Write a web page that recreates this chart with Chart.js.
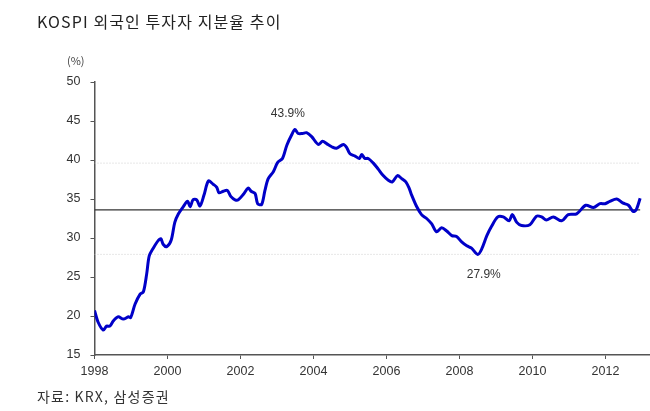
<!DOCTYPE html>
<html>
<head>
<meta charset="utf-8">
<script src="https://cdn.jsdelivr.net/npm/chart.js@4"></script>
<style>
  body { margin: 0; background: #fff; }
  #wrap { position: relative; width: 650px; height: 411px; }
  #chart { position: absolute; left: 0; top: 0; }
  .txt { position: absolute; font-family: 'Noto Sans CJK KR', 'Liberation Sans', sans-serif; color: #222; white-space: nowrap; }
  #title { left: 37px; top: 9px; font-size: 16px; letter-spacing: 1.1px; }
  #unit { left: 67px; top: 52px; font-size: 11px; color: #444; }
  #source { left: 37px; top: 386px; font-size: 14px; letter-spacing: 1.2px; color: #333; }
</style>
</head>
<body>
<div id="wrap">
  <canvas id="chart" width="650" height="411"></canvas>
  <div class="txt" id="title">KOSPI 외국인 투자자 지분율 추이</div>
  <div class="txt" id="unit">(%)</div>
  <div class="txt" id="source">자료: KRX, 삼성증권</div>
</div>
<script>
'use strict';

/* Data */
const years = [
  1998.0, 1998.1, 1998.24, 1998.33, 1998.42, 1998.52, 1998.65, 1998.79, 1998.93, 1998.99,
  1999.11, 1999.25, 1999.34, 1999.43, 1999.5, 1999.61, 1999.75, 1999.82, 1999.88, 1999.98,
  2000.1, 2000.2, 2000.3, 2000.43, 2000.55, 2000.62, 2000.7, 2000.8, 2000.89,
  2001.0, 2001.12, 2001.25, 2001.35, 2001.41, 2001.53, 2001.64, 2001.74, 2001.85, 2001.94,
  2002.08, 2002.21, 2002.29, 2002.4, 2002.47, 2002.58, 2002.67, 2002.76, 2002.9,
  2003.02, 2003.15, 2003.27, 2003.4, 2003.49, 2003.58, 2003.7, 2003.81, 2003.95,
  2004.13, 2004.25, 2004.36, 2004.5, 2004.63, 2004.82, 2004.91,
  2005.0, 2005.14, 2005.26, 2005.32, 2005.41, 2005.5, 2005.64, 2005.78, 2005.91,
  2006.05, 2006.16, 2006.3, 2006.42, 2006.53, 2006.62, 2006.69, 2006.83, 2006.96,
  2007.1, 2007.24, 2007.37, 2007.51, 2007.65, 2007.79, 2007.92,
  2008.06, 2008.2, 2008.33, 2008.5, 2008.61, 2008.75, 2008.88,
  2009.05, 2009.2, 2009.36, 2009.45, 2009.57, 2009.7, 2009.93,
  2010.11, 2010.25, 2010.38, 2010.57, 2010.8, 2010.98,
  2011.21, 2011.46, 2011.67, 2011.85, 2011.99,
  2012.12, 2012.31, 2012.47, 2012.63, 2012.76, 2012.84, 2012.95
];
const foreignShare = [
  20.7, 19.2, 18.2, 18.7, 18.7, 19.4, 19.9, 19.6, 19.9, 19.8,
  21.5, 22.8, 23.1, 25.4, 27.7, 28.7, 29.7, 29.9, 29.2, 28.9,
  29.7, 32.0, 33.1, 34.0, 34.7, 34.0, 34.9, 34.9, 34.1,
  35.5, 37.3, 36.9, 36.5, 35.8, 36.0, 36.1, 35.3, 34.9, 34.9,
  35.6, 36.4, 36.0, 35.7, 34.4, 34.3, 36.1, 37.6, 38.5,
  39.7, 40.2, 41.9, 43.2, 43.9, 43.4, 43.4, 43.5, 43.0,
  42.0, 42.4, 42.1, 41.7, 41.5, 42.0, 41.6,
  40.8, 40.5, 40.2, 40.7, 40.2, 40.2, 39.6, 38.8, 38.0,
  37.4, 37.2, 38.0, 37.6, 37.2, 36.4, 35.5, 34.0, 33.0,
  32.5, 31.8, 30.8, 31.3, 30.9, 30.3, 30.2,
  29.5, 29.0, 28.7, 27.9, 28.6, 30.3, 31.5,
  32.7, 32.7, 32.2, 33.0, 32.0, 31.6, 31.7,
  32.8, 32.7, 32.3, 32.7, 32.2, 33.0,
  33.1, 34.2, 33.9, 34.4, 34.4,
  34.7, 35.0, 34.5, 34.2, 33.4, 33.6, 35.1
];
const xTicks = [1998, 2000, 2002, 2004, 2006, 2008, 2010, 2012];
const yTicks = [15, 20, 25, 30, 35, 40, 45, 50];
const averageLevel = 33.6;
const upperBand = 39.6;
const lowerBand = 27.9;
const peakYear = 2003.49, peakValue = 43.9;
const troughYear = 2008.5, troughValue = 27.9;

const ctx = document.getElementById('chart');
const first = years[0];
const last = years[years.length - 1];

const hLine = (v) => [{ x: first, y: v }, { x: last, y: v }];

// labels for peak and trough
const notePlugin = {
  id: 'notes',
  afterDatasetsDraw(chart) {
    const { ctx, scales } = chart;
    ctx.save();
    ctx.font = '12px "Liberation Sans", Arial, sans-serif';
    ctx.fillStyle = '#333';
    ctx.textAlign = 'center';
    ctx.textBaseline = 'middle';
    ctx.fillText(peakValue.toFixed(1) + '%', scales.x.getPixelForValue(peakYear) - 7, scales.y.getPixelForValue(peakValue) - 16);
    ctx.fillText(troughValue.toFixed(1) + '%', scales.x.getPixelForValue(troughYear) + 6, scales.y.getPixelForValue(troughValue) + 20);
    ctx.restore();
  }
};

new Chart(ctx, {
  type: 'line',
  data: {
    datasets: [
      {
        data: years.map((x, i) => ({ x: x, y: foreignShare[i] })),
        borderColor: '#0000c8',
        borderWidth: 3,
        pointRadius: 0,
        tension: 0.3,
        order: 0
      },
      {
        data: hLine(averageLevel),
        borderColor: '#333',
        borderWidth: 1.2,
        pointRadius: 0,
        order: 1
      },
      {
        data: hLine(upperBand),
        borderColor: '#cfcfcf',
        borderWidth: 1,
        borderDash: [1, 2],
        pointRadius: 0,
        order: 2
      },
      {
        data: hLine(lowerBand),
        borderColor: '#cfcfcf',
        borderWidth: 1,
        borderDash: [1, 2],
        pointRadius: 0,
        order: 2
      }
    ]
  },
  options: {
    responsive: false,
    animation: false,
    layout: { padding: { top: 82, right: 0, bottom: 36, left: 0 } },
    plugins: { legend: { display: false }, tooltip: { enabled: false } },
    scales: {
      x: {
        type: 'linear',
        min: 1998,
        max: 2013.22,
        afterBuildTicks: (s) => { s.ticks = xTicks.map((v) => ({ value: v })); },
        afterFit: (s) => { s.height = 20; },
        grid: { drawOnChartArea: false, drawTicks: true, tickLength: 4, color: '#555' },
        border: { color: '#555', width: 1.5 },
        ticks: {
          padding: 5,
          color: '#333',
          font: { family: '"Liberation Sans", Arial, sans-serif', size: 12.5 },
          callback: (v) => String(v),
          maxRotation: 0
        }
      },
      y: {
        min: 15,
        max: 50,
        afterBuildTicks: (s) => { s.ticks = yTicks.map((v) => ({ value: v })); },
        afterFit: (s) => { s.width = 94.5; },
        grid: { drawOnChartArea: false, drawTicks: true, tickLength: 4, color: '#555' },
        border: { color: '#555', width: 1.5 },
        ticks: {
          padding: 10,
          color: '#333',
          font: { family: '"Liberation Sans", Arial, sans-serif', size: 12.5 }
        }
      }
    }
  },
  plugins: [notePlugin]
});
</script>
</body>
</html>
